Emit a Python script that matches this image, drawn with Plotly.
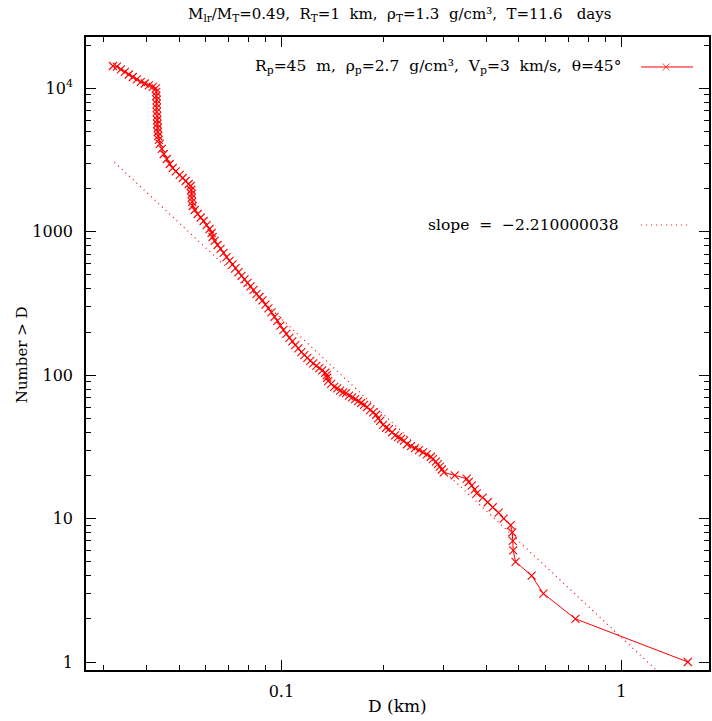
import plotly.graph_objects as go

# Cumulative size distribution (D in km, N > D)
diam_km = [
    0.03194, 0.03282, 0.03372, 0.03464, 0.03558, 0.03656, 0.03757, 0.03860, 0.03965, 0.04074, 0.04185, 0.04271,
    0.04285, 0.04285, 0.04299, 0.04299, 0.04299, 0.04299, 0.04313, 0.04313, 0.04313, 0.04328, 0.04328, 0.04343, 0.04358,
    0.04388, 0.04448, 0.04508, 0.04601, 0.04695, 0.04791, 0.04889, 0.05023, 0.05126, 0.05231, 0.05338, 0.05411,
    0.05429, 0.05448, 0.05448, 0.05466, 0.05485, 0.0556,
    0.05672, 0.05788, 0.05906, 0.06027, 0.0615, 0.06234, 0.06276, 0.06361, 0.06491, 0.06624,
    0.0676, 0.06898, 0.07039, 0.07183, 0.0733, 0.07481, 0.07634, 0.0779, 0.0795, 0.08112,
    0.08278, 0.08448, 0.0862, 0.08797, 0.08977, 0.0916, 0.09348, 0.09539, 0.09734, 0.09933,
    0.1014, 0.1034, 0.1056, 0.1077, 0.1099, 0.1122, 0.1145, 0.1168, 0.1192, 0.1216,
    0.1241, 0.1267, 0.1293, 0.1319, 0.1346, 0.136, 0.1364, 0.1373, 0.1401, 0.143,
    0.1459, 0.1489, 0.1519, 0.155, 0.1582, 0.1615, 0.1648, 0.1682, 0.1716, 0.1751,
    0.1787, 0.1824, 0.1862, 0.19, 0.1926, 0.1953, 0.1991, 0.2032, 0.2074, 0.2117,
    0.216, 0.2204, 0.2249, 0.2295,
    0.2342, 0.2406, 0.2472, 0.254, 0.2609, 0.2681, 0.2754, 0.2791, 0.2848, 0.2887, 0.2926,
    0.2966, 0.3006, 0.3238, 0.351, 0.3558, 0.3631, 0.3706, 0.3756, 0.3912, 0.4046, 0.4187,
    0.4358, 0.4508, 0.4728, 0.4778, 0.4794, 0.481, 0.4886, 0.545, 0.590, 0.733, 1.57,
]
n_cum = [
    14330, 14200, 13550, 13020, 12500, 12010, 11540, 11120, 10820, 10480, 10230, 10000,
    9440, 8851, 8303, 7787, 7302, 6847, 6421, 6021, 5646, 5295, 4966, 4657, 4368,
    4097, 3781, 3488, 3219, 2970, 2786, 2634, 2490, 2372, 2261, 2154, 2086,
    1956, 1835, 1721, 1614, 1513, 1419,
    1331, 1258, 1189, 1115, 1046, 981, 920, 863, 809, 759,
    712, 667, 626, 592, 559, 524, 492, 465, 440, 416,
    393, 368, 351, 332, 311, 292, 274, 255, 239, 222,
    207, 194, 182, 172, 162, 154, 145, 138, 132, 126,
    121, 116, 112, 108, 104, 100, 96, 91, 87, 83,
    81, 78, 76, 75, 72, 70, 68, 66, 64, 62,
    60, 57, 55, 53, 50, 48, 45, 43, 42, 40,
    38, 37, 36, 35,
    33, 32, 31, 30, 29, 28, 27, 26, 25, 24, 23,
    22, 21, 20, 19, 18, 17, 16, 15, 14, 13, 12,
    11, 10, 9, 8, 7, 6, 5, 4, 3, 2, 1,
]

# Power-law fit line (slope = -2.21), end points
fit_d = [0.0323, 1.30]
fit_n = [3050, 0.83]

x_major = [0.1, 1]
x_major_text = ["0.1", "1"]
x_minor = [0.03, 0.04, 0.05, 0.06, 0.07, 0.08, 0.09, 0.2, 0.3, 0.4, 0.5, 0.6, 0.7, 0.8, 0.9]
y_major = [1, 10, 100, 1000, 10000]
y_major_text = ["1", "10", "100", "1000", "10<sup>4</sup>"]
y_minor = [m * 10 ** e for e in range(0, 5) for m in range(2, 10)]

title_text = ("M<sub>lr</sub>/M<sub>T</sub>=0.49,  R<sub>T</sub>=1  km,  ρ<sub>T</sub>=1.3  g/cm³,  T=11.6   days")
legend_text = "R<sub>p</sub>=45  m,  ρ<sub>p</sub>=2.7  g/cm³,  V<sub>p</sub>=3  km/s,  θ=45°"
slope_text = "slope  =  −2.210000038"

RED = "#ff0000"
FONT = "DejaVu Serif"
DOTS = "1px,4px"

fig = go.Figure()
fig.add_trace(go.Scatter(
    x=fit_d, y=fit_n, mode="lines",
    line=dict(color=RED, width=1.2, dash=DOTS), showlegend=False,
))
fig.add_trace(go.Scatter(
    x=diam_km, y=n_cum, mode="lines+markers",
    line=dict(color=RED, width=1),
    marker=dict(symbol="x-thin", size=8, line=dict(color=RED, width=1.1), color=RED),
    showlegend=False,
))

# legend keys on an invisible overlay axis pair (0..1)
fig.add_trace(go.Scatter(
    x=[0.891, 0.9312, 0.9744], y=[0.9526, 0.9526, 0.9526], xaxis="x2", yaxis="y2",
    mode="lines+markers", line=dict(color=RED, width=1),
    marker=dict(symbol="x-thin", size=[0, 7, 0], line=dict(color=RED, width=1)),
    showlegend=False, hoverinfo="skip",
))
fig.add_trace(go.Scatter(
    x=[0.891, 0.9664], y=[0.703, 0.703], xaxis="x2", yaxis="y2",
    mode="lines", line=dict(color=RED, width=1.2, dash=DOTS),
    showlegend=False, hoverinfo="skip",
))

axis_common = dict(
    type="log", showgrid=False, zeroline=False, showline=True, linecolor="black",
    linewidth=1.5, mirror="ticks", ticks="inside", ticklen=10, tickwidth=1,
    tickcolor="black", tickfont=dict(family=FONT, size=16, color="black"),
)

fig.update_layout(
    width=712, height=721,
    margin=dict(l=86, r=1, t=37, b=51),
    paper_bgcolor="white", plot_bgcolor="white",
    font=dict(family=FONT, color="black"),
    title=dict(text=title_text, x=0.5615, xanchor="center", y=1 - 14 / 721, yanchor="middle",
               font=dict(family=FONT, size=15, color="black")),
    xaxis=dict(**axis_common, range=[-1.5748, 0.2581], tickmode="array",
               tickvals=x_major, ticktext=x_major_text, ticklabelstandoff=6,
               minor=dict(tickmode="array", tickvals=x_minor, ticks="inside", ticklen=5,
                          tickcolor="black", showgrid=False)),
    yaxis=dict(**axis_common, range=[-0.0558, 4.3584], tickmode="array",
               tickvals=y_major, ticktext=y_major_text, ticklabelstandoff=8,
               minor=dict(tickmode="array", tickvals=y_minor, ticks="inside", ticklen=5,
                          tickcolor="black", showgrid=False)),
    xaxis2=dict(overlaying="x", range=[0, 1], visible=False),
    yaxis2=dict(overlaying="y", range=[0, 1], visible=False),
    annotations=[
        dict(text="D (km)", xref="paper", yref="paper", x=0.5, y=-0.0569,
             xanchor="center", yanchor="middle", showarrow=False,
             font=dict(family=FONT, size=17, color="black")),
        dict(text="Number &gt; D", xref="paper", yref="paper", x=-0.1024, y=0.4976,
             xanchor="center", yanchor="middle", textangle=-90, showarrow=False,
             font=dict(family=FONT, size=15, color="black")),
        dict(text=legend_text, xref="paper", yref="paper", x=0.8624, y=0.9526,
             xanchor="right", yanchor="middle", showarrow=False,
             font=dict(family=FONT, size=15.5, color="black")),
        dict(text=slope_text, xref="paper", yref="paper", x=0.859, y=0.703,
             xanchor="right", yanchor="middle", showarrow=False,
             font=dict(family=FONT, size=15.5, color="black")),
    ],
)

fig.write_html("out.html")
